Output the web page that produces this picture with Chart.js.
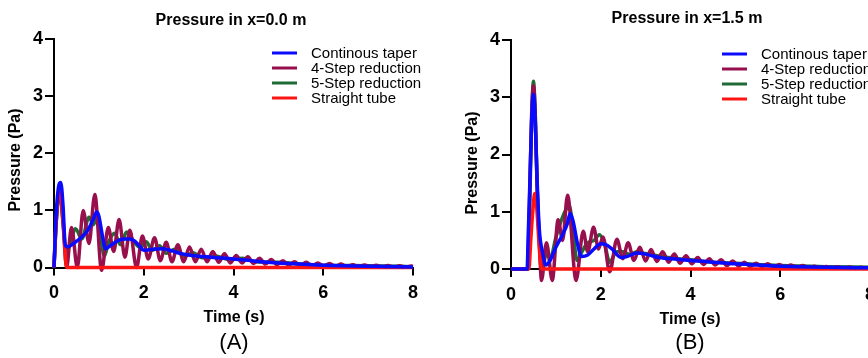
<!DOCTYPE html>
<html>
<head>
<meta charset="utf-8">
<script src="https://cdn.jsdelivr.net/npm/chart.js@4.4.1/dist/chart.umd.min.js"></script>
<style>
    body { margin: 0; background: #fff; overflow: hidden; }
    #wrap { position: relative; width: 868px; height: 358px; overflow: hidden; }
    canvas { position: absolute; top: 0; }
    #chartA { left: 0; }
    #chartB { left: 434px; }
</style>
</head>
<body>
<div id="wrap">
    <canvas id="chartA" width="434" height="358"></canvas>
    <canvas id="chartB" width="460" height="358"></canvas>
</div>
<script>
// series names and colours
const seriesNames = ['Continous taper', '4-Step reduction', '5-Step reduction', 'Straight tube'];
const seriesColors = ['#0a0aff', '#970f4c', '#1e6b36', '#ff1414'];

const xTicks = [0, 2, 4, 6, 8];
const yTicks = [0, 1, 2, 3, 4];

// (A) Pressure in x=0.0 m
const tA_taper = [0, 0.04, 0.09, 0.15, 0.2, 0.25, 0.3, 0.45, 0.6, 0.75, 0.88, 0.95, 1.0, 1.08, 1.15, 1.25, 1.4, 1.55, 1.7, 1.8, 1.9, 2.0, 2.2, 2.4, 2.6, 2.8, 3.0, 3.5, 4.0, 4.5, 5.0, 5.5, 6.0, 7.0, 8.0];
const pA_taper = [0, 0.8, 1.35, 1.49, 1.1, 0.4, 0.36, 0.43, 0.52, 0.65, 0.85, 0.97, 0.9, 0.55, 0.33, 0.38, 0.46, 0.5, 0.5, 0.46, 0.38, 0.3, 0.32, 0.33, 0.3, 0.25, 0.22, 0.18, 0.15, 0.11, 0.08, 0.06, 0.04, 0.02, 0.01];

const tA_step4 = [0, 0.05, 0.13, 0.2, 0.28, 0.39, 0.52, 0.65, 0.78, 0.91, 1.06, 1.21, 1.33, 1.45, 1.58, 1.69, 1.84, 1.97, 2.1, 2.24, 2.37, 2.5, 2.63, 2.76, 2.89, 3.02, 3.15, 3.28, 3.41, 3.54, 3.67, 3.8, 3.93, 4.06, 4.19, 4.32, 4.45, 4.58, 4.71, 4.84, 4.97, 5.1, 5.23, 5.36, 5.49, 5.62, 5.75, 5.88, 6.01, 6.14, 6.27, 6.4, 6.53, 6.66, 6.79, 6.92, 7.05, 7.18, 7.31, 7.44, 7.57, 7.7, 7.83, 7.96, 8.0];
const pA_step4 = [0, 0.8, 1.35, 0.8, 0, 0.7, 0, 1.0, 0.42, 1.28, -0.05, 0.7, 0.28, 0.84, 0.18, 0.65, 0, 0.55, 0.15, 0.52, 0.12, 0.44, 0.1, 0.4, 0.1, 0.36, 0.1, 0.32, 0.1, 0.28, 0.09, 0.24, 0.08, 0.21, 0.08, 0.19, 0.07, 0.16, 0.06, 0.14, 0.05, 0.12, 0.04, 0.1, 0.035, 0.09, 0.03, 0.08, 0.025, 0.07, 0.02, 0.06, 0.015, 0.05, 0.012, 0.045, 0.01, 0.04, 0.008, 0.035, 0.006, 0.03, 0.005, 0.025, 0.02];

const tA_step5 = [0, 0.05, 0.13, 0.2, 0.27, 0.35, 0.48, 0.62, 0.78, 0.88, 0.97, 1.05, 1.12, 1.22, 1.35, 1.48, 1.62, 1.78, 1.92, 2.05, 2.2, 2.35, 2.5, 2.7, 2.9, 3.1, 3.3, 3.6, 3.9, 4.2, 4.5, 5.0, 5.5, 6.0, 7.0, 8.0];
const pA_step5 = [0, 0.8, 1.35, 0.8, 0.25, 0.4, 0.68, 0.5, 0.88, 0.75, 0.92, 0.5, 0.2, 0.45, 0.6, 0.4, 0.62, 0.45, 0.35, 0.45, 0.3, 0.38, 0.25, 0.32, 0.2, 0.26, 0.17, 0.2, 0.14, 0.16, 0.1, 0.09, 0.06, 0.04, 0.03, 0.015];

const tA_straight = [0, 0.04, 0.09, 0.13, 0.18, 0.23, 0.27, 0.3, 8];
const pA_straight = [0, 0.7, 1.25, 1.35, 1.1, 0.5, 0.05, 0, 0];

// (B) Pressure in x=1.5 m
const tB_taper = [0, 0.36, 0.38, 0.42, 0.46, 0.5, 0.54, 0.58, 0.63, 0.7, 0.78, 0.85, 1.0, 1.15, 1.25, 1.32, 1.38, 1.48, 1.57, 1.7, 1.85, 2.0, 2.1, 2.25, 2.45, 2.6, 2.8, 3.0, 3.3, 3.7, 4.0, 4.5, 5.0, 5.5, 6.0, 7.0, 8.0];
const pB_taper = [0, 0, 0.5, 1.5, 2.6, 3.05, 2.6, 1.6, 0.7, 0.3, 0.07, 0.12, 0.38, 0.6, 0.78, 0.97, 0.85, 0.45, 0.22, 0.24, 0.35, 0.44, 0.43, 0.35, 0.2, 0.22, 0.28, 0.26, 0.2, 0.17, 0.15, 0.12, 0.09, 0.07, 0.05, 0.03, 0.02];

const tB_step4 = [0, 0.37, 0.42, 0.46, 0.5, 0.54, 0.58, 0.63, 0.68, 0.79, 0.92, 1.05, 1.15, 1.26, 1.45, 1.61, 1.71, 1.84, 1.95, 2.05, 2.2, 2.36, 2.49, 2.61, 2.74, 2.87, 3.0, 3.12, 3.25, 3.38, 3.51, 3.64, 3.77, 3.9, 4.03, 4.16, 4.29, 4.42, 4.55, 4.68, 4.81, 4.94, 5.07, 5.2, 5.33, 5.46, 5.59, 5.72, 5.85, 5.98, 6.11, 6.24, 6.37, 6.5, 6.63, 6.76, 6.89, 7.02, 7.15, 7.28, 7.41, 7.54, 7.67, 7.8, 7.93, 8.0];
const pB_step4 = [0, 0, 1.4, 2.7, 3.2, 2.7, 1.5, 0.5, -0.2, 0.46, -0.2, 0.86, 0.5, 1.29, -0.2, 0.66, 0.3, 0.73, 0.35, 0.56, -0.05, 0.52, 0.18, 0.46, 0.15, 0.38, 0.14, 0.34, 0.13, 0.3, 0.12, 0.26, 0.1, 0.23, 0.09, 0.2, 0.08, 0.18, 0.07, 0.16, 0.06, 0.14, 0.05, 0.12, 0.045, 0.1, 0.04, 0.09, 0.035, 0.08, 0.03, 0.07, 0.025, 0.06, 0.02, 0.05, 0.02, 0.045, 0.015, 0.04, 0.012, 0.035, 0.01, 0.03, 0.01, 0.02];

const tB_step5 = [0, 0.38, 0.42, 0.46, 0.5, 0.54, 0.58, 0.63, 0.7, 0.78, 0.88, 1.0, 1.1, 1.2, 1.3, 1.38, 1.47, 1.58, 1.7, 1.85, 1.97, 2.08, 2.2, 2.35, 2.5, 2.65, 2.8, 3.0, 3.2, 3.5, 4.0, 4.5, 5.0, 5.5, 6.0, 7.0, 8.0];
const pB_step5 = [0, 0, 1.2, 2.6, 3.28, 2.7, 1.5, 0.5, 0, 0.25, 0.2, 0.55, 0.8, 1.0, 1.1, 0.7, 0.15, 0.3, 0.45, 0.5, 0.6, 0.45, 0.12, 0.3, 0.3, 0.25, 0.3, 0.27, 0.24, 0.2, 0.16, 0.12, 0.1, 0.08, 0.06, 0.04, 0.03];

const tB_straight = [0, 0.4, 0.44, 0.5, 0.53, 0.57, 0.62, 0.66, 0.69, 8];
const pB_straight = [0, 0, 0.5, 1.15, 1.32, 1.1, 0.5, 0.08, 0, 0];

const FONT = "'Liberation Sans', Arial, sans-serif";

function toPoints(t, p) {
    return t.map((x, i) => ({ x: x, y: p[i] }));
}

function buildDatasets(series) {
    // draw order: blue on top, then red, maroon, green underneath
    const drawOrder = [0, 2, 3, 1];
    return series.map((s, i) => ({
        label: seriesNames[i],
        data: toPoints(s[0], s[1]),
        borderColor: seriesColors[i],
        borderWidth: 3.5,
        pointRadius: 0,
        fill: false,
        cubicInterpolationMode: 'monotone',
        clip: false,
        order: drawOrder[i]
    }));
}

// titles, axis labels, panel letter and legend drawn at fixed spots
function textPlugin(cfg) {
    return {
        id: 'figText',
        afterDraw(chart) {
            const ctx = chart.ctx;
            ctx.save();
            ctx.fillStyle = '#000';
            ctx.textAlign = 'center';
            ctx.textBaseline = 'middle';

            ctx.font = 'bold 16px ' + FONT;
            ctx.fillText(cfg.title, cfg.titleX, cfg.titleY);

            ctx.fillText('Time (s)', cfg.xTitleX, cfg.xTitleY);

            ctx.save();
            ctx.translate(cfg.yTitleX, cfg.yTitleY);
            ctx.rotate(-Math.PI / 2);
            ctx.fillText('Pressure (Pa)', 0, 0);
            ctx.restore();

            ctx.font = '22px ' + FONT;
            ctx.fillText(cfg.panel, cfg.xTitleX, cfg.panelY);

            ctx.font = '15px ' + FONT;
            ctx.textAlign = 'left';
            seriesNames.forEach((name, i) => {
                const y = cfg.legendY + i * 15;
                ctx.strokeStyle = seriesColors[i];
                ctx.lineWidth = 3;
                ctx.beginPath();
                ctx.moveTo(cfg.legendX, y);
                ctx.lineTo(cfg.legendX + 25, y);
                ctx.stroke();
                ctx.fillText(name, cfg.legendX + 39, y + 1);
            });
            ctx.restore();
        }
    };
}

function makeChart(canvasId, series, cfg) {
    const axisCommon = {
        type: 'linear',
        grid: { drawOnChartArea: false, color: '#000', lineWidth: 2 },
        border: { color: '#000', width: 2 }
    };
    new Chart(document.getElementById(canvasId), {
        type: 'line',
        data: { datasets: buildDatasets(series) },
        options: {
            responsive: false,
            animation: false,
            layout: { padding: { top: cfg.top, right: cfg.right, left: 0, bottom: 0 } },
            plugins: { legend: { display: false }, tooltip: { enabled: false } },
            scales: {
                x: {
                    ...axisCommon,
                    min: 0, max: 8,
                    afterBuildTicks: (s) => { s.ticks = xTicks.map(v => ({ value: v })); },
                    grid: { ...axisCommon.grid, tickLength: 8 },
                    ticks: { color: '#000', padding: 7, maxRotation: 0, font: { family: FONT, size: 18, weight: 'bold' } },
                    afterFit: (s) => { s.height = cfg.xHeight; }
                },
                y: {
                    ...axisCommon,
                    min: 0, max: 4,
                    afterBuildTicks: (s) => { s.ticks = yTicks.map(v => ({ value: v })); },
                    grid: { ...axisCommon.grid, tickLength: 9 },
                    ticks: { color: '#000', padding: 2, font: { family: FONT, size: 18, weight: 'bold' } },
                    afterFit: (s) => { s.width = cfg.yWidth; }
                }
            }
        },
        plugins: [textPlugin(cfg)]
    });
}

makeChart('chartA', [
    [tA_taper, pA_taper],
    [tA_step4, pA_step4],
    [tA_step5, pA_step5],
    [tA_straight, pA_straight]
], {
    top: 39, right: 21, yWidth: 54, xHeight: 90.5,
    title: 'Pressure in x=0.0 m', titleX: 231, titleY: 21,
    xTitleX: 234, xTitleY: 318, yTitleX: 16, yTitleY: 160,
    panel: '(A)', panelY: 343,
    legendX: 272, legendY: 53
});

makeChart('chartB', [
    [tB_taper, pB_taper],
    [tB_step4, pB_step4],
    [tB_step5, pB_step5],
    [tB_straight, pB_straight]
], {
    top: 40, right: 24, yWidth: 77, xHeight: 89,
    title: 'Pressure in x=1.5 m', titleX: 253, titleY: 19,
    xTitleX: 256, xTitleY: 320, yTitleX: 39, yTitleY: 163,
    panel: '(B)', panelY: 343,
    legendX: 288, legendY: 54
});
</script>
</body>
</html>
